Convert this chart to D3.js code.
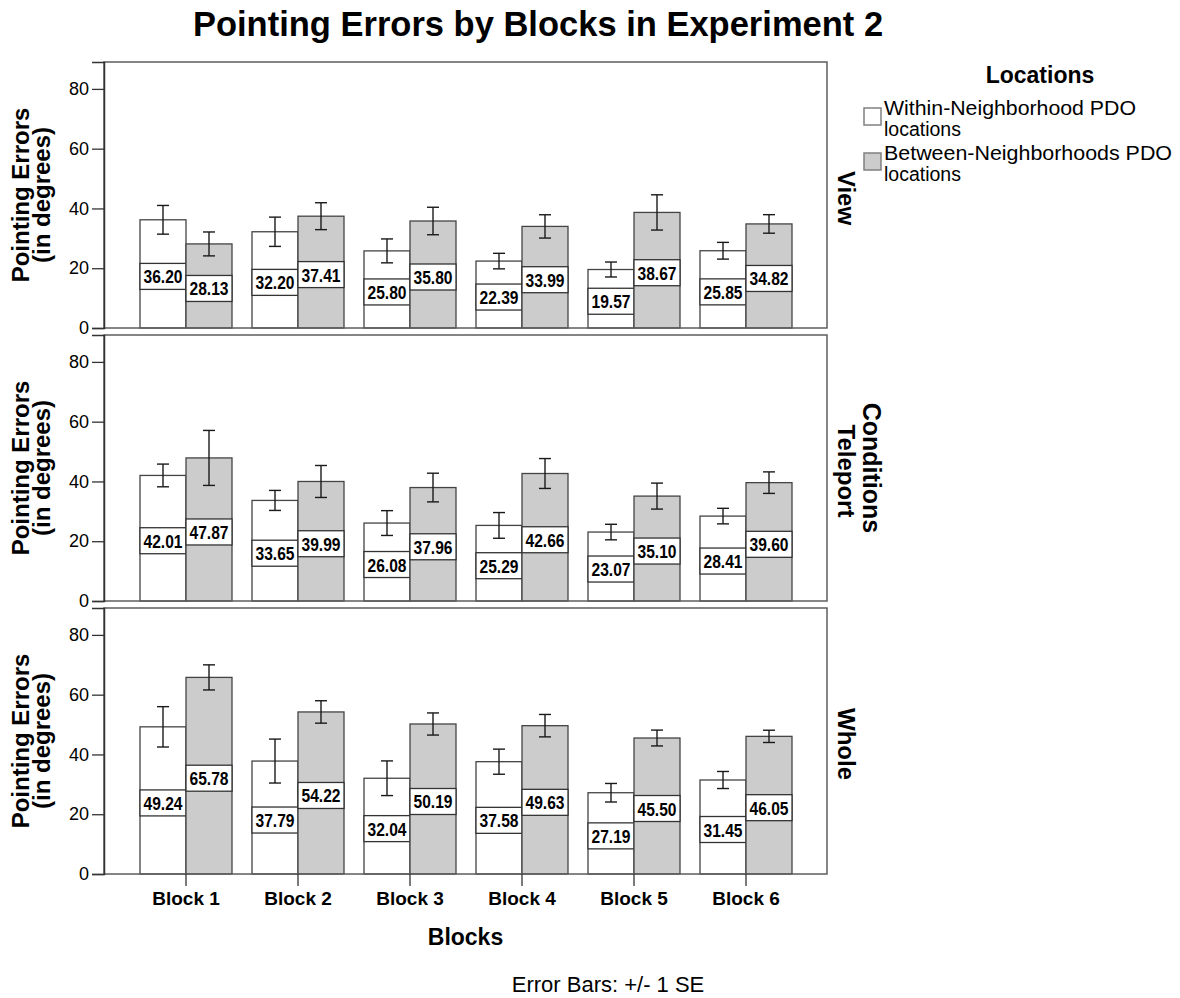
<!DOCTYPE html>
<html>
<head>
<meta charset="utf-8">
<script src="https://cdn.jsdelivr.net/npm/d3@7"></script>
<style>
  body { margin: 0; background: #fff; }
  svg { display: block; font-family: "Liberation Sans", Arial, sans-serif; }
</style>
</head>
<body>
<svg id="chart" width="1180" height="998"></svg>
<script>
// ---------- data ----------
const blocks = ["Block 1", "Block 2", "Block 3", "Block 4", "Block 5", "Block 6"];
const conditions = ["View", "Teleport", "Whole"];
const seriesNames = [["Within-Neighborhood PDO", "locations"], ["Between-Neighborhoods PDO", "locations"]];

const viewWithin      = [36.20, 32.20, 25.80, 22.39, 19.57, 25.85];
const viewBetween     = [28.13, 37.41, 35.80, 33.99, 38.67, 34.82];
const teleportWithin  = [42.01, 33.65, 26.08, 25.29, 23.07, 28.41];
const teleportBetween = [47.87, 39.99, 37.96, 42.66, 35.10, 39.60];
const wholeWithin     = [49.24, 37.79, 32.04, 37.58, 27.19, 31.45];
const wholeBetween    = [65.78, 54.22, 50.19, 49.63, 45.50, 46.05];

const viewWithinSE      = [4.8, 4.9, 4.0, 2.6, 2.5, 2.8];
const viewBetweenSE     = [4.0, 4.5, 4.6, 3.9, 5.9, 3.1];
const teleportWithinSE  = [3.8, 3.35, 4.15, 4.3, 2.6, 2.6];
const teleportBetweenSE = [9.2, 5.35, 4.8, 5.0, 4.35, 3.6];
const wholeWithinSE     = [6.75, 7.35, 5.8, 4.2, 3.1, 2.85];
const wholeBetweenSE    = [4.2, 3.75, 3.7, 3.75, 2.65, 2.05];

const yTicks = [0, 20, 40, 60, 80];

const title = "Pointing Errors by Blocks in Experiment 2";
const yTitle = ["Pointing Errors", "(in degrees)"];
const xTitle = "Blocks";
const facetTitle = "Conditions";
const legendTitle = "Locations";
const footnote = "Error Bars: +/- 1 SE";

// ---------- build table ----------
const means = {
  View: [viewWithin, viewBetween],
  Teleport: [teleportWithin, teleportBetween],
  Whole: [wholeWithin, wholeBetween]
};
const ses = {
  View: [viewWithinSE, viewBetweenSE],
  Teleport: [teleportWithinSE, teleportBetweenSE],
  Whole: [wholeWithinSE, wholeBetweenSE]
};

// ---------- layout ----------
const svg = d3.select("#chart");
const fills = ["#ffffff", "#cccccc"];
const panelLeft = 104, panelRight = 827;
const panelTops = [62, 335, 608];
const panelH = 266;

const x = d3.scaleBand().domain(blocks).range([130, 802])
  .paddingInner(20 / 112).paddingOuter(10 / 112);
const xs = d3.scaleBand().domain([0, 1]).range([0, x.bandwidth()]);
const y = d3.scaleLinear().domain([0, 89]).range([panelH, 0]);

// title
svg.append("text").attr("x", 538).attr("y", 36).attr("text-anchor", "middle")
  .attr("font-size", 34.5).attr("font-weight", "bold").attr("fill", "#000").text(title);

conditions.forEach((cond, ci) => {
  const g = svg.append("g").attr("transform", `translate(0,${panelTops[ci]})`);

  // bars
  [0, 1].forEach(si => {
    const vals = means[cond][si];
    const errs = ses[cond][si];
    const bg = g.append("g");
    bg.selectAll("rect.bar").data(blocks).join("rect")
      .attr("class", "bar")
      .attr("x", (b) => x(b) + xs(si))
      .attr("width", xs.bandwidth())
      .attr("y", (b, i) => y(vals[i]))
      .attr("height", (b, i) => y(0) - y(vals[i]))
      .attr("fill", fills[si]).attr("stroke", "#444").attr("stroke-width", 1.3);

    // error bars
    const eg = bg.selectAll("g.err").data(blocks).join("g").attr("class", "err");
    const cx = (b) => x(b) + xs(si) + xs.bandwidth() / 2;
    eg.append("line")
      .attr("x1", cx).attr("x2", cx)
      .attr("y1", (b, i) => y(vals[i] + errs[i]))
      .attr("y2", (b, i) => y(vals[i] - errs[i]));
    eg.append("line")
      .attr("x1", (b) => cx(b) - 6).attr("x2", (b) => cx(b) + 6)
      .attr("y1", (b, i) => y(vals[i] + errs[i]))
      .attr("y2", (b, i) => y(vals[i] + errs[i]));
    eg.append("line")
      .attr("x1", (b) => cx(b) - 6).attr("x2", (b) => cx(b) + 6)
      .attr("y1", (b, i) => y(vals[i] - errs[i]))
      .attr("y2", (b, i) => y(vals[i] - errs[i]));
    eg.selectAll("line").attr("stroke", "#1a1a1a").attr("stroke-width", 1.4);

    // value labels
    const lg = bg.selectAll("g.lab").data(blocks).join("g").attr("class", "lab")
      .attr("transform", (b, i) => `translate(${x(b) + xs(si)},${y(vals[i] / 2) + 2.5})`);
    lg.append("rect").attr("x", 0).attr("y", -13).attr("width", xs.bandwidth()).attr("height", 26)
      .attr("fill", "#fff").attr("stroke", "#333").attr("stroke-width", 1.3);
    lg.append("text").attr("x", xs.bandwidth() / 2).attr("y", 7)
      .attr("text-anchor", "middle").attr("font-size", 19).attr("font-weight", "bold")
      .attr("font-family", "'Liberation Sans Narrow','Arial Narrow','Liberation Sans',sans-serif")
      .attr("textLength", 39).attr("lengthAdjust", "spacingAndGlyphs")
      .attr("fill", "#000")
      .text((b, i) => vals[i].toFixed(2));
  });

  // frame
  g.append("rect").attr("x", panelLeft).attr("y", 0)
    .attr("width", panelRight - panelLeft).attr("height", panelH)
    .attr("fill", "none").attr("stroke", "#5e5e5e").attr("stroke-width", 1.5);

  // y axis
  const ya = g.append("g").attr("transform", `translate(${panelLeft},0)`)
    .call(d3.axisLeft(y).tickValues(yTicks).tickSize(12).tickPadding(3).tickFormat(d3.format("d")));
  ya.select(".domain").attr("stroke", "#333").attr("stroke-width", 1.5);
  ya.selectAll(".tick line").attr("stroke", "#333").attr("stroke-width", 1.3);
  ya.selectAll(".tick text").attr("font-size", 18).attr("fill", "#000")
    .attr("font-family", "'Liberation Sans', Arial, sans-serif");

  // y title (two lines)
  const cy = panelH / 2;
  const yt = g.append("text").attr("transform", `translate(0,${cy}) rotate(-90)`)
    .attr("text-anchor", "middle").attr("font-size", 24).attr("font-weight", "bold").attr("fill", "#000");
  yTitle.forEach((t, li) => {
    yt.append("tspan").attr("x", 0).attr("y", 29 + li * 21).text(t);
  });

  // strip label
  g.append("text").attr("transform", `translate(838,${cy + 3}) rotate(90)`)
    .attr("text-anchor", "middle").attr("font-size", 24).attr("font-weight", "bold")
    .attr("fill", "#000").text(cond);
});

// x axis on bottom panel
const xBase = panelTops[2] + panelH;
const xa = svg.append("g").attr("transform", `translate(0,${xBase})`)
  .call(d3.axisBottom(x).tickSize(12).tickPadding(6));
xa.select(".domain").remove();
xa.selectAll(".tick line").attr("stroke", "#333").attr("stroke-width", 1.3);
xa.selectAll(".tick text").attr("font-size", 19).attr("font-weight", "bold").attr("fill", "#000")
  .attr("font-family", "'Liberation Sans', Arial, sans-serif");

svg.append("text").attr("x", (panelLeft + panelRight) / 2).attr("y", 945)
  .attr("text-anchor", "middle").attr("font-size", 23).attr("font-weight", "bold").attr("fill", "#000")
  .text(xTitle);

svg.append("text").attr("x", 608).attr("y", 992)
  .attr("text-anchor", "middle").attr("font-size", 22).attr("fill", "#000").text(footnote);

// facet title
svg.append("text").attr("transform", `translate(863,${panelTops[1] + panelH / 2}) rotate(90)`)
  .attr("text-anchor", "middle").attr("font-size", 25).attr("font-weight", "bold")
  .attr("fill", "#000").text(facetTitle);

// legend
const leg = svg.append("g");
leg.append("text").attr("x", 1040).attr("y", 83).attr("text-anchor", "middle")
  .attr("font-size", 23).attr("font-weight", "bold").attr("fill", "#000").text(legendTitle);
seriesNames.forEach((lines, i) => {
  const top = 108 + i * 45;
  leg.append("rect").attr("x", 864).attr("y", top).attr("width", 17).attr("height", 17)
    .attr("fill", fills[i]).attr("stroke", "#808080").attr("stroke-width", 1.5);
  const t = leg.append("text").attr("font-size", 19.5).attr("fill", "#000");
  lines.forEach((ln, li) => {
    t.append("tspan").attr("x", 884).attr("y", top + 7 + li * 21)
      .attr("textLength", li === 0 ? (i === 0 ? 252 : 288) : null)
      .attr("lengthAdjust", "spacingAndGlyphs")
      .text(ln);
  });
});
</script>
</body>
</html>
